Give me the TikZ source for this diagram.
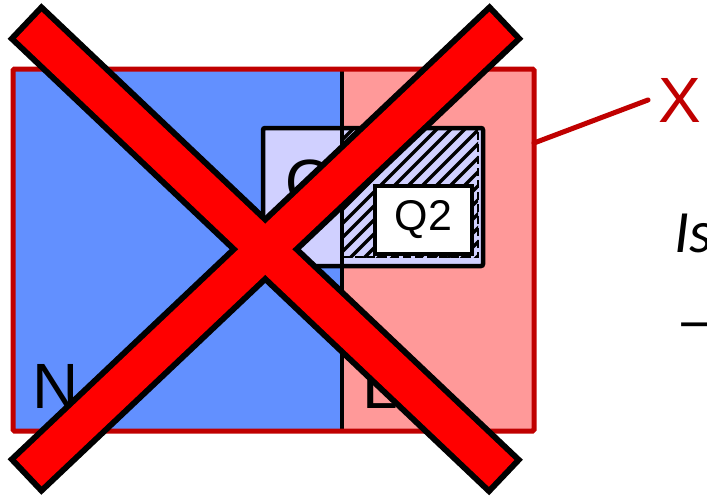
\documentclass[tikz,border=0pt]{standalone}
\usepackage{fontspec}
\setmainfont{Liberation Sans}
\newfontfamily\calibfont{Carlito}
\usetikzlibrary{calc}
\definecolor{regionblue}{RGB}{98,144,255}
\definecolor{regionpink}{RGB}{255,153,153}
\definecolor{querylav}{RGB}{208,208,255}
\definecolor{framered}{RGB}{192,0,0}
\definecolor{crossred}{RGB}{255,0,0}

\begin{document}
\begin{tikzpicture}[
  x=1pt, y=-1pt,
  framebox/.style={draw=framered, line width=5pt, rounded corners=1.5pt},
  divider/.style={draw=black, line width=4pt},
  qframe/.style={draw=black, fill=querylav, line width=4.5pt, rounded corners=2pt},
  hatchline/.style={draw=black, line width=3.5pt},
  hatchedge/.style={draw=black, line width=2pt, dash pattern=on 8pt off 4pt},
  qbox/.style={rectangle, draw=black, fill=white, line width=4pt, minimum width=97pt, minimum height=68pt, inner sep=0pt, font=\fontsize{43}{48}\selectfont},
  biglbl/.style={inner sep=0pt, font=\fontsize{64}{70}\selectfont},
  sidelbl/.style={inner sep=0pt, anchor=base west, font=\calibfont\itshape\fontsize{60}{66}\selectfont},
  callout/.style={draw=framered, line width=5pt, line cap=round},
  crossout/.style={draw=black, line width=49pt},
  crossin/.style={draw=crossred, line width=37pt, shorten <=6pt, shorten >=6pt}
]
\useasboundingbox (0,0) rectangle (707,496);

% regions N and L
\fill[regionblue] (13,69) rectangle (342,431);
\fill[regionpink] (342,69) rectangle (534,431);

% query box, overlap part hatched
\draw[qframe] (263,128) rectangle (483,266);
\begin{scope}
  \clip (343,130) rectangle (478,257);
  \foreach \i in {206,220,...,486}
    \draw[hatchline] (\i,262) -- ++(140,-140);
\end{scope}
\draw[hatchedge] (343,257) -- (478,257) -- (478,130);
\draw[divider] (342,67) -- (342,431);
\draw[framebox] (13,69) rectangle (534,431);

\node[qbox] (q2) at (423.5,220) {Q2};
\node[biglbl, anchor=base] (qlbl) at (310,204) {Q};
\node[biglbl, anchor=base west] (nlbl) at (32,408) {N};
\node[biglbl, anchor=base west] (llbl) at (362,408) {L};

% callout to the side text
\coordinate (cstart) at (534,143);
\node[biglbl, text=framered, anchor=base west] (xlbl) at (658,122) {X};
\draw[callout] (cstart) -- ($(xlbl.west)+(-10,0)$);
\node[sidelbl] (islbl) at (674,252) {Is};
\node[sidelbl, font=\calibfont\fontsize{60}{66}\selectfont] (dashlbl) at (676,341) {—};

% the big cross
\coordinate (b1s) at (24.5,21);
\coordinate (b1e) at (506,477.5);
\coordinate (b2s) at (506.5,21);
\coordinate (b2e) at (24.5,477);
\foreach \a/\b in {b1s/b1e, b2s/b2e}
  \draw[crossout] (\a) -- (\b);
\foreach \a/\b in {b1s/b1e, b2s/b2e}
  \draw[crossin] (\a) -- (\b);

\end{tikzpicture}
\end{document}
